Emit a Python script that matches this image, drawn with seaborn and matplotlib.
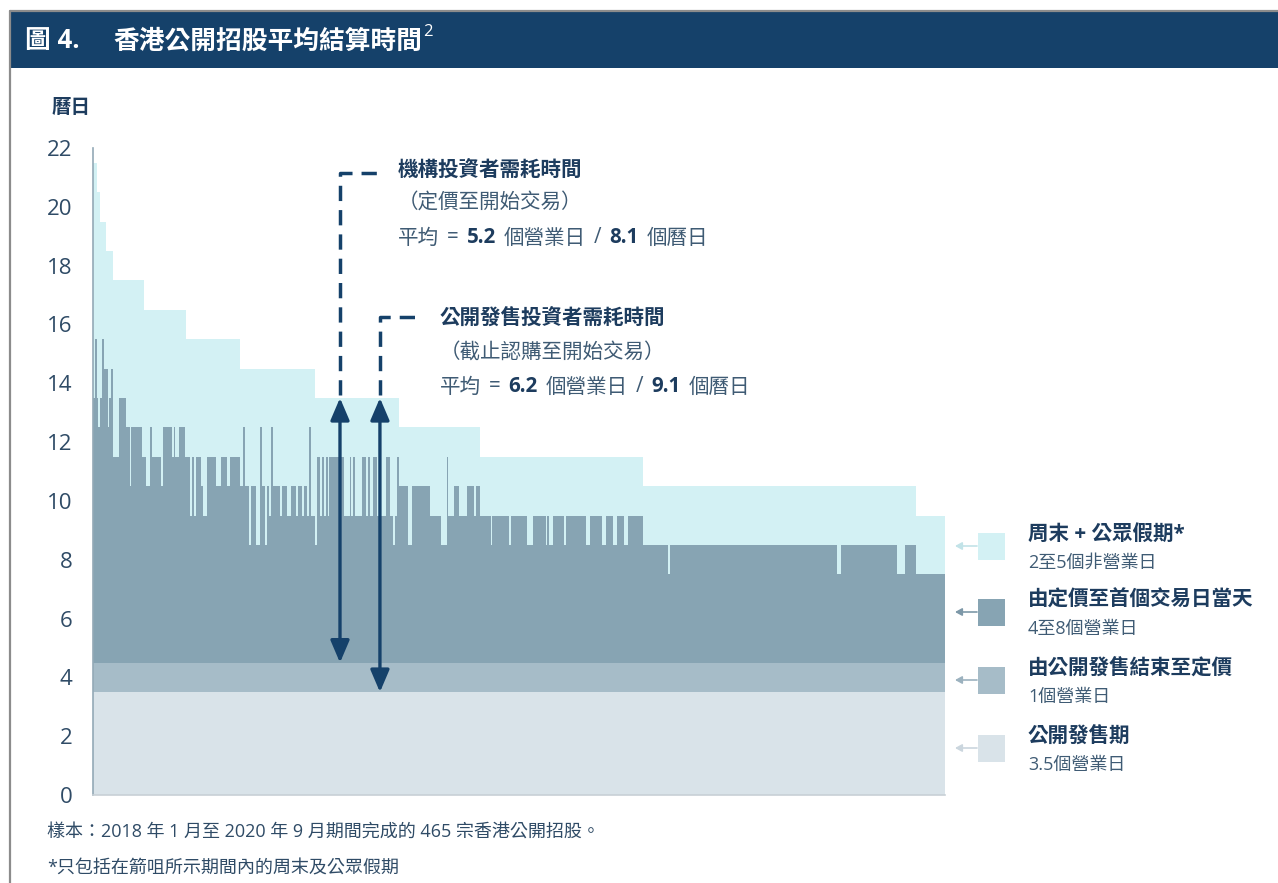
import numpy as np
import pandas as pd
import matplotlib
matplotlib.use("Agg")
import matplotlib.pyplot as plt
import seaborn as sns
from matplotlib.patches import Rectangle, FancyArrowPatch
from matplotlib.lines import Line2D

# ---------------- data ----------------
n_ipos = 465
# calendar days (top of the light band), as runs of (level, number of IPOs)
calendar_levels = [21.5, 20.5, 19.5, 18.5, 17.5, 16.5, 15.5, 14.5, 13.5, 12.5, 11.5, 10.5, 9.5]
calendar_counts = [2, 2, 3, 4, 17, 23, 29, 41, 46, 44, 89, 149, 16]

# business days (top of the dark band), as runs
business_levels = [
    13.5, 15.5, 13.5, 12.5, 13.5, 15.5, 14.5, 12.5, 13.5, 14.5,
    11.5, 13.5, 12.5, 10.5, 12.5, 11.5, 10.5, 12.5, 11.5, 10.5,
    12.5, 11.5, 12.5, 11.5, 12.5, 11.5, 9.5, 11.5, 9.5, 11.5,
    10.5, 9.5, 11.5, 10.5, 11.5, 10.5, 11.5, 10.5, 12.5, 10.5,
    8.5, 10.5, 8.5, 12.5, 10.5, 8.5, 10.5, 9.5, 12.5, 10.5,
    9.5, 10.5, 9.5, 10.5, 9.5, 10.5, 9.5, 10.5, 9.5, 12.5,
    9.5, 8.5, 11.5, 9.5, 11.5, 9.5, 11.5, 9.5, 11.5, 9.5,
    11.5, 9.5, 11.5, 9.5, 11.5, 9.5, 11.5, 9.5, 11.5, 9.5,
    11.5, 9.5, 8.5, 9.5, 11.5, 10.5, 8.5, 10.5, 9.5, 8.5,
    11.5, 9.5, 10.5, 9.5, 10.5, 9.5, 10.5, 9.5, 8.5, 9.5,
    8.5, 9.5, 8.5, 9.5, 8.5, 9.5, 8.5, 9.5, 8.5, 9.5,
    8.5, 9.5, 8.5, 9.5, 8.5, 9.5, 8.5, 9.5, 8.5, 7.5,
    8.5, 7.5, 8.5, 7.5, 8.5, 7.5]
business_counts = [
    1, 1, 1, 1, 1, 1, 2, 1, 1, 1,
    3, 4, 2, 1, 6, 2, 2, 1, 5, 1,
    5, 1, 1, 2, 3, 3, 1, 1, 1, 3,
    1, 2, 5, 3, 3, 2, 5, 2, 1, 2,
    1, 3, 2, 1, 2, 1, 1, 1, 1, 4,
    1, 3, 2, 3, 1, 2, 1, 2, 1, 1,
    2, 1, 2, 1, 1, 1, 1, 1, 8, 3,
    1, 1, 1, 4, 2, 1, 1, 2, 2, 5,
    2, 2, 1, 1, 1, 5, 2, 10, 6, 3,
    1, 3, 3, 4, 4, 1, 2, 6, 1, 9,
    1, 9, 3, 7, 1, 1, 2, 6, 1, 11,
    2, 7, 2, 4, 2, 4, 2, 8, 14, 1,
    91, 2, 31, 4, 6, 16]

public_offer_days = 3.5      # 公開發售期
offer_to_pricing_days = 1.0  # 由公開發售結束至定價
y_ticks = list(range(0, 23, 2))

inst_avg = ("5.2", "8.1")
retail_avg = ("6.2", "9.1")

calendar = np.repeat(calendar_levels, calendar_counts)
business = np.repeat(business_levels, business_counts)
assert len(calendar) == n_ipos and len(business) == n_ipos

df = pd.DataFrame({
    "ipo": np.arange(n_ipos),
    "calendar": calendar,
    "business": business,
    "pricing": np.full(n_ipos, public_offer_days + offer_to_pricing_days),
    "offer": np.full(n_ipos, public_offer_days),
})

# ---------------- style ----------------
sns.set_style("white")
FONT = ["Open Sans", "Noto Sans CJK TC", "DejaVu Sans"]
plt.rcParams["font.family"] = FONT

C_LIGHT = "#d3f1f4"
C_DARK = "#87a4b3"
C_MED = "#a6bcc8"
C_PALE = "#d9e3e9"
NAVY = "#15416a"
TXT = "#2f4b66"
TXT_B = "#1d3c5e"
TXT_S = "#3f5b74"

W, H = 1278, 883
fig = plt.figure(figsize=(W / 100, H / 100), dpi=100)
fig.patch.set_facecolor("white")
renderer = fig.canvas.get_renderer()


def fx(x):
    return x / W


def fy(y):
    return 1 - y / H


# frame + header
fig.add_artist(Line2D([fx(10), fx(1278)], [fy(11), fy(11)], color="#8c8c8c", lw=1.6))
fig.add_artist(Line2D([fx(10), fx(10)], [fy(11), fy(883)], color="#8c8c8c", lw=1.6))
fig.add_artist(Rectangle((fx(11), fy(68)), fx(1278 - 11), 56 / H, color=NAVY, lw=0))
fig.text(fx(25), fy(41), "圖 4.", color="white", fontsize=18.5, fontweight="bold",
         va="center", ha="left")
t = fig.text(fx(113), fy(41), "香港公開招股平均結算時間", color="white", fontsize=18.5,
             fontweight="bold", va="center", ha="left")
tb = t.get_window_extent(renderer=renderer)
fig.text(fx(113 + tb.width + 1), fy(32), "2", color="white", fontsize=12,
         va="center", ha="left")

# ---------------- chart ----------------
ax = fig.add_axes([fx(93), fy(795), (945 - 93) / W, (795 - 148) / H])
layers = [("calendar", C_LIGHT), ("business", C_DARK), ("pricing", C_MED), ("offer", C_PALE)]
for col, color in layers:
    sns.barplot(data=df, x="ipo", y=col, color=color, width=1.0, linewidth=0,
                errorbar=None, saturation=1, antialiased=False, ax=ax)

ax.set_xlim(-0.5, n_ipos - 0.5)
ax.set_ylim(0, 22)
ax.set_xticks([])
ax.set_yticks(y_ticks)
ax.set_xlabel("")
ax.set_ylabel("")
ax.tick_params(axis="y", length=0, pad=15, labelsize=16, labelcolor=TXT)
for s in ["top", "right"]:
    ax.spines[s].set_visible(False)
ax.spines["left"].set_color("#93a9b6")
ax.spines["left"].set_linewidth(1.2)
ax.spines["bottom"].set_color("#c8d0d6")
ax.spines["bottom"].set_linewidth(1.2)

fig.text(fx(52), fy(108), "曆日", fontsize=14, fontweight="bold", color=TXT_B,
         va="center", ha="left")

# arrows + dashed leaders
ax1_x, ax2_x = 134.3, 156.1
arrow_style = "<|-|>,head_length=0.75,head_width=0.32"
ax.annotate("", xy=(ax1_x, 13.5), xytext=(ax1_x, public_offer_days + offer_to_pricing_days),
            arrowprops=dict(arrowstyle=arrow_style, color=NAVY, lw=2.4,
                            shrinkA=0, shrinkB=0, mutation_scale=18))
ax.annotate("", xy=(ax2_x, 13.5), xytext=(ax2_x, public_offer_days),
            arrowprops=dict(arrowstyle=arrow_style, color=NAVY, lw=2.4,
                            shrinkA=0, shrinkB=0, mutation_scale=18))
ax.plot([ax1_x, ax1_x, 157.8], [13.6, 21.15, 21.15], color=NAVY, lw=2.5,
        dashes=(4.4, 2.6), solid_capstyle="butt")
ax.plot([ax2_x, ax2_x, 178.0], [13.6, 16.25, 16.25], color=NAVY, lw=2.5,
        dashes=(4.4, 2.6), solid_capstyle="butt")


def rich(x_px, y_px, pieces, size, gap=8):
    x = x_px
    for i, (s, bold) in enumerate(pieces):
        if i:
            x += gap
        tt = fig.text(fx(x), fy(y_px), s, fontsize=size,
                      fontweight="bold" if bold else "normal",
                      color=TXT_B if bold else TXT_S, va="center", ha="left")
        bb = tt.get_window_extent(renderer=renderer)
        x += bb.width


ANN = 14.8
fig.text(fx(398), fy(170), "機構投資者需耗時間", fontsize=ANN, fontweight="bold",
         color=TXT_B, va="center", ha="left")
fig.text(fx(398), fy(202), "（定價至開始交易）", fontsize=ANN, color=TXT_S,
         va="center", ha="left")
rich(398, 238, [("平均", False), ("=", False), (inst_avg[0], True), ("個營業日", False),
                ("/", False), (inst_avg[1], True), ("個曆日", False)], ANN)

fig.text(fx(440), fy(318), "公開發售投資者需耗時間", fontsize=ANN, fontweight="bold",
         color=TXT_B, va="center", ha="left")
fig.text(fx(440), fy(353), "（截止認購至開始交易）", fontsize=ANN, color=TXT_S,
         va="center", ha="left")
rich(440, 387, [("平均", False), ("=", False), (retail_avg[0], True), ("個營業日", False),
                ("/", False), (retail_avg[1], True), ("個曆日", False)], ANN)

# legend on the right
legend_items = [
    ("周末 + 公眾假期*", "2至5個非營業日", C_LIGHT, "#c2e3e8", 546),
    ("由定價至首個交易日當天", "4至8個營業日", C_DARK, "#7d98a8", 612),
    ("由公開發售結束至定價", "1個營業日", C_MED, "#9cb2bf", 680),
    ("公開發售期", "3.5個營業日", C_PALE, "#cbd6de", 748),
]
for title, sub, col, acol, yc in legend_items:
    fig.add_artist(Rectangle((fx(978), fy(yc + 13.5)), 27 / W, 27 / H, color=col, lw=0))
    fig.add_artist(FancyArrowPatch((fx(977), fy(yc)), (fx(955), fy(yc)),
                                   transform=fig.transFigure,
                                   arrowstyle="-|>,head_length=4,head_width=2.2",
                                   color=acol, lw=1.2, shrinkA=0, shrinkB=0))
    fig.text(fx(1028), fy(yc - 12), title, fontsize=14.8, fontweight="bold",
             color=TXT_B, va="center", ha="left")
    fig.text(fx(1028), fy(yc + 17), sub, fontsize=13, color=TXT_S,
             va="center", ha="left")

# footnotes
fig.text(fx(47), fy(832), "樣本：2018 年 1 月至 2020 年 9 月期間完成的 465 宗香港公開招股。",
         fontsize=13, color=TXT, va="center", ha="left")
fig.text(fx(47), fy(868), "*只包括在箭咀所示期間內的周末及公眾假期",
         fontsize=13, color=TXT, va="center", ha="left")

fig.savefig("out.png", dpi=100)
